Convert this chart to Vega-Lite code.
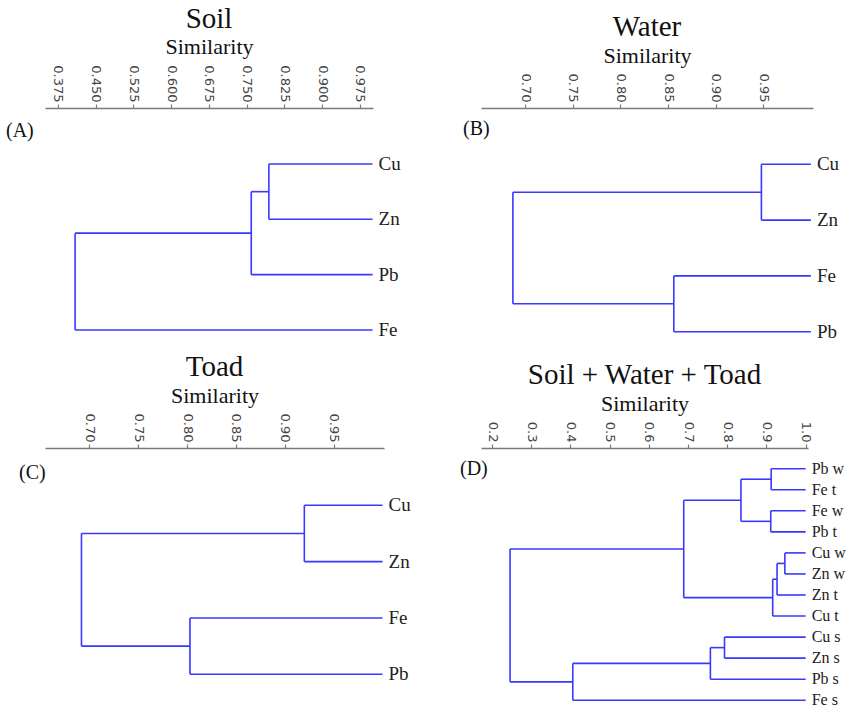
{
  "$schema": "https://vega.github.io/schema/vega-lite/v6.json",
  "background": "white",
  "padding": {"left": 5, "top": 4, "right": 5, "bottom": 0},
  "columns": 2,
  "bounds": "flush",
  "spacing": {"row": 97, "column": 97},
  "config": {
    "view": {"stroke": null},
    "axis": {
      "domainColor": "#7a7a7a", "domainWidth": 1.6,
      "tickColor": "#7a7a7a", "tickSize": 4, "tickWidth": 1.2,
      "labelFont": "DejaVu Sans", "labelFontSize": 13, "labelColor": "#444444",
      "labelAngle": 90, "labelAlign": "right", "labelBaseline": "middle", "labelPadding": 2,
      "grid": false,
      "titleFont": "Liberation Serif", "titleFontSize": 22, "titleFontWeight": "normal",
      "titleColor": "#111111", "titlePadding": 6
    },
    "title": {"font": "Liberation Serif", "fontSize": 29, "fontWeight": "normal", "color": "#111111", "offset": 2}
  },
  "concat": [
    {
      "width": 328, "height": 243,
      "title": "Soil",
      "data": {"values": [
        {"kind": "seg", "sim": 1.0, "sim2": 0.794, "pos": 0, "pos2": 0},
        {"kind": "seg", "sim": 1.0, "sim2": 0.794, "pos": 1, "pos2": 1},
        {"kind": "seg", "sim": 0.794, "sim2": 0.794, "pos": 0, "pos2": 1},
        {"kind": "seg", "sim": 0.794, "sim2": 0.759, "pos": 0.5, "pos2": 0.5},
        {"kind": "seg", "sim": 1.0, "sim2": 0.759, "pos": 2, "pos2": 2},
        {"kind": "seg", "sim": 0.759, "sim2": 0.759, "pos": 0.5, "pos2": 2},
        {"kind": "seg", "sim": 0.759, "sim2": 0.409, "pos": 1.25, "pos2": 1.25},
        {"kind": "seg", "sim": 1.0, "sim2": 0.409, "pos": 3, "pos2": 3},
        {"kind": "seg", "sim": 0.409, "sim2": 0.409, "pos": 1.25, "pos2": 3},
        {"kind": "leaf", "label": "Cu", "sim": 1.0, "pos": 0},
        {"kind": "leaf", "label": "Zn", "sim": 1.0, "pos": 1},
        {"kind": "leaf", "label": "Pb", "sim": 1.0, "pos": 2},
        {"kind": "leaf", "label": "Fe", "sim": 1.0, "pos": 3},
        {"kind": "tag", "label": "(A)", "sim": 0.2717, "pos": -0.6}
      ]},
      "encoding": {
        "x": {"field": "sim", "type": "quantitative",
              "scale": {"domain": [0.3492, 1.0009], "nice": false, "zero": false},
              "axis": {"orient": "top", "title": "Similarity", "titleFont": "Liberation Serif", "format": ".3f",
                       "values": [0.375, 0.45, 0.525, 0.6, 0.675, 0.75, 0.825, 0.9, 0.975]}},
        "y": {"field": "pos", "type": "quantitative",
              "scale": {"domain": [-1.013, 3.381], "reverse": true, "nice": false, "zero": false},
              "axis": null}
      },
      "layer": [
        {"transform": [{"filter": "datum.kind === 'seg'"}],
         "mark": {"type": "rule", "color": "#3838ff", "strokeWidth": 1.6},
         "encoding": {"x2": {"field": "sim2"}, "y2": {"field": "pos2"}}},
        {"transform": [{"filter": "datum.kind === 'leaf'"}],
         "mark": {"type": "text", "align": "left", "baseline": "middle", "dx": 6, "font": "Liberation Serif", "fontSize": 19, "color": "#222222"},
         "encoding": {"text": {"field": "label"}}},
        {"transform": [{"filter": "datum.kind === 'tag'"}],
         "mark": {"type": "text", "align": "left", "baseline": "middle", "font": "Liberation Serif", "fontSize": 20, "color": "#111111"},
         "encoding": {"text": {"field": "label"}}}
      ]
    },
    {
      "width": 332, "height": 243,
      "title": "Water",
      "data": {"values": [
        {"kind": "seg", "sim": 1.0, "sim2": 0.948, "pos": 0, "pos2": 0},
        {"kind": "seg", "sim": 1.0, "sim2": 0.948, "pos": 1, "pos2": 1},
        {"kind": "seg", "sim": 0.948, "sim2": 0.948, "pos": 0, "pos2": 1},
        {"kind": "seg", "sim": 1.0, "sim2": 0.856, "pos": 2, "pos2": 2},
        {"kind": "seg", "sim": 1.0, "sim2": 0.856, "pos": 3, "pos2": 3},
        {"kind": "seg", "sim": 0.856, "sim2": 0.856, "pos": 2, "pos2": 3},
        {"kind": "seg", "sim": 0.948, "sim2": 0.687, "pos": 0.5, "pos2": 0.5},
        {"kind": "seg", "sim": 0.856, "sim2": 0.687, "pos": 2.5, "pos2": 2.5},
        {"kind": "seg", "sim": 0.687, "sim2": 0.687, "pos": 0.5, "pos2": 2.5},
        {"kind": "leaf", "label": "Cu", "sim": 1.0, "pos": 0},
        {"kind": "leaf", "label": "Zn", "sim": 1.0, "pos": 1},
        {"kind": "leaf", "label": "Fe", "sim": 1.0, "pos": 2},
        {"kind": "leaf", "label": "Pb", "sim": 1.0, "pos": 3},
        {"kind": "tag", "label": "(B)", "sim": 0.6346, "pos": -0.63}
      ]},
      "encoding": {
        "x": {"field": "sim", "type": "quantitative",
              "scale": {"domain": [0.6535, 1.0022], "nice": false, "zero": false},
              "axis": {"orient": "top", "title": "Similarity", "titleFont": "Liberation Serif", "format": ".2f",
                       "values": [0.7, 0.75, 0.8, 0.85, 0.9, 0.95]}},
        "y": {"field": "pos", "type": "quantitative",
              "scale": {"domain": [-1.009, 3.346], "reverse": true, "nice": false, "zero": false},
              "axis": null}
      },
      "layer": [
        {"transform": [{"filter": "datum.kind === 'seg'"}],
         "mark": {"type": "rule", "color": "#3838ff", "strokeWidth": 1.6},
         "encoding": {"x2": {"field": "sim2"}, "y2": {"field": "pos2"}}},
        {"transform": [{"filter": "datum.kind === 'leaf'"}],
         "mark": {"type": "text", "align": "left", "baseline": "middle", "dx": 6, "font": "Liberation Serif", "fontSize": 19, "color": "#222222"},
         "encoding": {"text": {"field": "label"}}},
        {"transform": [{"filter": "datum.kind === 'tag'"}],
         "mark": {"type": "text", "align": "left", "baseline": "middle", "font": "Liberation Serif", "fontSize": 20, "color": "#111111"},
         "encoding": {"text": {"field": "label"}}}
      ]
    },
    {
      "width": 339, "height": 255,
      "title": "Toad",
      "data": {"values": [
        {"kind": "seg", "sim": 1.0, "sim2": 0.920, "pos": 0, "pos2": 0},
        {"kind": "seg", "sim": 1.0, "sim2": 0.920, "pos": 1, "pos2": 1},
        {"kind": "seg", "sim": 0.920, "sim2": 0.920, "pos": 0, "pos2": 1},
        {"kind": "seg", "sim": 1.0, "sim2": 0.803, "pos": 2, "pos2": 2},
        {"kind": "seg", "sim": 1.0, "sim2": 0.803, "pos": 3, "pos2": 3},
        {"kind": "seg", "sim": 0.803, "sim2": 0.803, "pos": 2, "pos2": 3},
        {"kind": "seg", "sim": 0.920, "sim2": 0.692, "pos": 0.5, "pos2": 0.5},
        {"kind": "seg", "sim": 0.803, "sim2": 0.692, "pos": 2.5, "pos2": 2.5},
        {"kind": "seg", "sim": 0.692, "sim2": 0.692, "pos": 0.5, "pos2": 2.5},
        {"kind": "leaf", "label": "Cu", "sim": 1.0, "pos": 0},
        {"kind": "leaf", "label": "Zn", "sim": 1.0, "pos": 1},
        {"kind": "leaf", "label": "Fe", "sim": 1.0, "pos": 2},
        {"kind": "leaf", "label": "Pb", "sim": 1.0, "pos": 3},
        {"kind": "tag", "label": "(C)", "sim": 0.6281, "pos": -0.57}
      ]},
      "encoding": {
        "x": {"field": "sim", "type": "quantitative",
              "scale": {"domain": [0.6547, 1.0015], "nice": false, "zero": false},
              "axis": {"orient": "top", "title": "Similarity", "titleFont": "Liberation Serif", "format": ".2f",
                       "values": [0.7, 0.75, 0.8, 0.85, 0.9, 0.95]}},
        "y": {"field": "pos", "type": "quantitative",
              "scale": {"domain": [-1.017, 3.51], "reverse": true, "nice": false, "zero": false},
              "axis": null}
      },
      "layer": [
        {"transform": [{"filter": "datum.kind === 'seg'"}],
         "mark": {"type": "rule", "color": "#3838ff", "strokeWidth": 1.6},
         "encoding": {"x2": {"field": "sim2"}, "y2": {"field": "pos2"}}},
        {"transform": [{"filter": "datum.kind === 'leaf'"}],
         "mark": {"type": "text", "align": "left", "baseline": "middle", "dx": 6, "font": "Liberation Serif", "fontSize": 19, "color": "#222222"},
         "encoding": {"text": {"field": "label"}}},
        {"transform": [{"filter": "datum.kind === 'tag'"}],
         "mark": {"type": "text", "align": "left", "baseline": "middle", "font": "Liberation Serif", "fontSize": 20, "color": "#111111"},
         "encoding": {"text": {"field": "label"}}}
      ]
    },
    {
      "width": 327, "height": 255,
      "title": "Soil + Water + Toad",
      "data": {"values": [
        {"kind": "seg", "sim": 1.0, "sim2": 0.912, "pos": 0, "pos2": 0},
        {"kind": "seg", "sim": 1.0, "sim2": 0.912, "pos": 1, "pos2": 1},
        {"kind": "seg", "sim": 0.912, "sim2": 0.912, "pos": 0, "pos2": 1},
        {"kind": "seg", "sim": 1.0, "sim2": 0.911, "pos": 2, "pos2": 2},
        {"kind": "seg", "sim": 1.0, "sim2": 0.911, "pos": 3, "pos2": 3},
        {"kind": "seg", "sim": 0.911, "sim2": 0.911, "pos": 2, "pos2": 3},
        {"kind": "seg", "sim": 0.912, "sim2": 0.835, "pos": 0.5, "pos2": 0.5},
        {"kind": "seg", "sim": 0.911, "sim2": 0.835, "pos": 2.5, "pos2": 2.5},
        {"kind": "seg", "sim": 0.835, "sim2": 0.835, "pos": 0.5, "pos2": 2.5},
        {"kind": "seg", "sim": 1.0, "sim2": 0.947, "pos": 4, "pos2": 4},
        {"kind": "seg", "sim": 1.0, "sim2": 0.947, "pos": 5, "pos2": 5},
        {"kind": "seg", "sim": 0.947, "sim2": 0.947, "pos": 4, "pos2": 5},
        {"kind": "seg", "sim": 0.947, "sim2": 0.927, "pos": 4.5, "pos2": 4.5},
        {"kind": "seg", "sim": 1.0, "sim2": 0.927, "pos": 6, "pos2": 6},
        {"kind": "seg", "sim": 0.927, "sim2": 0.927, "pos": 4.5, "pos2": 6},
        {"kind": "seg", "sim": 0.927, "sim2": 0.916, "pos": 5.25, "pos2": 5.25},
        {"kind": "seg", "sim": 1.0, "sim2": 0.916, "pos": 7, "pos2": 7},
        {"kind": "seg", "sim": 0.916, "sim2": 0.916, "pos": 5.25, "pos2": 7},
        {"kind": "seg", "sim": 0.835, "sim2": 0.689, "pos": 1.5, "pos2": 1.5},
        {"kind": "seg", "sim": 0.916, "sim2": 0.689, "pos": 6.125, "pos2": 6.125},
        {"kind": "seg", "sim": 0.689, "sim2": 0.689, "pos": 1.5, "pos2": 6.125},
        {"kind": "seg", "sim": 1.0, "sim2": 0.793, "pos": 8, "pos2": 8},
        {"kind": "seg", "sim": 1.0, "sim2": 0.793, "pos": 9, "pos2": 9},
        {"kind": "seg", "sim": 0.793, "sim2": 0.793, "pos": 8, "pos2": 9},
        {"kind": "seg", "sim": 0.793, "sim2": 0.757, "pos": 8.5, "pos2": 8.5},
        {"kind": "seg", "sim": 1.0, "sim2": 0.757, "pos": 10, "pos2": 10},
        {"kind": "seg", "sim": 0.757, "sim2": 0.757, "pos": 8.5, "pos2": 10},
        {"kind": "seg", "sim": 0.757, "sim2": 0.406, "pos": 9.25, "pos2": 9.25},
        {"kind": "seg", "sim": 1.0, "sim2": 0.406, "pos": 11, "pos2": 11},
        {"kind": "seg", "sim": 0.406, "sim2": 0.406, "pos": 9.25, "pos2": 11},
        {"kind": "seg", "sim": 0.689, "sim2": 0.246, "pos": 3.8125, "pos2": 3.8125},
        {"kind": "seg", "sim": 0.406, "sim2": 0.246, "pos": 10.125, "pos2": 10.125},
        {"kind": "seg", "sim": 0.246, "sim2": 0.246, "pos": 3.8125, "pos2": 10.125},
        {"kind": "leaf", "label": "Pb w", "sim": 1.0, "pos": 0},
        {"kind": "leaf", "label": "Fe t", "sim": 1.0, "pos": 1},
        {"kind": "leaf", "label": "Fe w", "sim": 1.0, "pos": 2},
        {"kind": "leaf", "label": "Pb t", "sim": 1.0, "pos": 3},
        {"kind": "leaf", "label": "Cu w", "sim": 1.0, "pos": 4},
        {"kind": "leaf", "label": "Zn w", "sim": 1.0, "pos": 5},
        {"kind": "leaf", "label": "Zn t", "sim": 1.0, "pos": 6},
        {"kind": "leaf", "label": "Cu t", "sim": 1.0, "pos": 7},
        {"kind": "leaf", "label": "Cu s", "sim": 1.0, "pos": 8},
        {"kind": "leaf", "label": "Zn s", "sim": 1.0, "pos": 9},
        {"kind": "leaf", "label": "Pb s", "sim": 1.0, "pos": 10},
        {"kind": "leaf", "label": "Fe s", "sim": 1.0, "pos": 11},
        {"kind": "tag", "label": "(D)", "sim": 0.1183, "pos": 0}
      ]},
      "encoding": {
        "x": {"field": "sim", "type": "quantitative",
              "scale": {"domain": [0.1719, 1.006], "nice": false, "zero": false},
              "axis": {"orient": "top", "title": "Similarity", "titleFont": "Liberation Serif", "format": ".1f",
                       "values": [0.2, 0.3, 0.4, 0.5, 0.6, 0.7, 0.8, 0.9, 1.0]}},
        "y": {"field": "pos", "type": "quantitative",
              "scale": {"domain": [-0.983, 11.13], "reverse": true, "nice": false, "zero": false},
              "axis": null}
      },
      "layer": [
        {"transform": [{"filter": "datum.kind === 'seg'"}],
         "mark": {"type": "rule", "color": "#3838ff", "strokeWidth": 1.6},
         "encoding": {"x2": {"field": "sim2"}, "y2": {"field": "pos2"}}},
        {"transform": [{"filter": "datum.kind === 'leaf'"}],
         "mark": {"type": "text", "align": "left", "baseline": "middle", "dx": 6, "font": "Liberation Serif", "fontSize": 16, "color": "#222222"},
         "encoding": {"text": {"field": "label"}}},
        {"transform": [{"filter": "datum.kind === 'tag'"}],
         "mark": {"type": "text", "align": "left", "baseline": "middle", "font": "Liberation Serif", "fontSize": 20, "color": "#111111"},
         "encoding": {"text": {"field": "label"}}}
      ]
    }
  ]
}
